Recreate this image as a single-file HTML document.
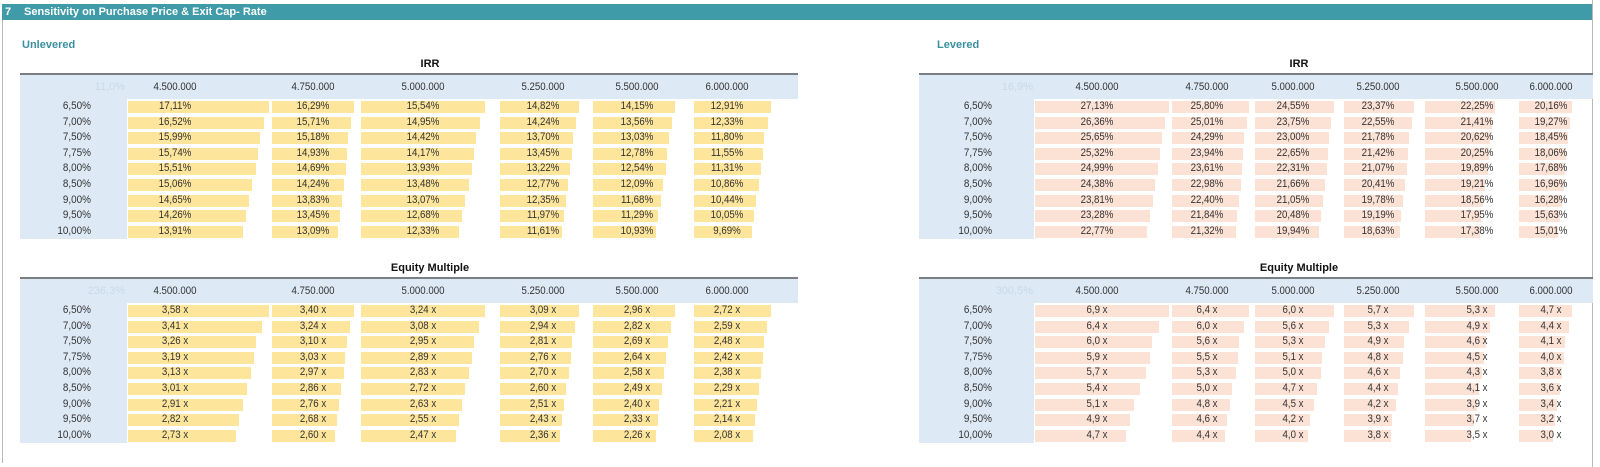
<!DOCTYPE html>
<html><head><meta charset="utf-8">
<style>
*{margin:0;padding:0;box-sizing:border-box}
body{width:1600px;height:467px;background:#fff;position:relative;overflow:hidden;font-family:"Liberation Sans",Arial,sans-serif;font-size:11px;color:#333}
.abs{position:absolute}
.bar{left:2px;top:4px;width:1590px;height:16px;background:#3f9ba8;color:#fff;font-weight:bold;line-height:16px}
.sub{color:#3a8fa0;font-weight:bold;font-size:11px}
.ttl{font-weight:bold;color:#111;transform:translateX(-50%)}
.tbl{position:absolute}
.tbl .line{position:absolute;left:0;top:0;height:2px;right:0;background:#7b7f84}
.tbl .band{position:absolute;left:0;top:2px;height:24px;right:0;background:#dde9f5}
.tbl .lab{position:absolute;left:0;top:2px;height:164px;background:#dde9f5}
.row{position:absolute;left:0;right:0;height:15.6px}
.row .rl{position:absolute;left:0;top:0;line-height:15.6px;text-align:right;transform:scaleX(.9);transform-origin:right center}
.c{position:absolute;top:0;height:15.6px}
.c i{position:absolute;left:0;top:2px;height:12px;background:var(--bc);width:calc(var(--m) * 1px * var(--v) / var(--t))}
.c b{position:absolute;left:calc(var(--cx) * 1px);top:0;font-weight:normal;line-height:15.6px;white-space:nowrap;transform:translateX(-50%) scaleX(.88)}
.hdr .c b{line-height:24px}
.ghost{position:absolute;top:2px;line-height:24px;color:#c9d9e8;text-align:right}
.L{left:20px;width:778px;--bc:#fde59b}
.L .lab{width:107px}
.L .rl{width:71px}
.L .ghost{left:0;width:105px}
.L .c:nth-child(2){left:108px;--m:141;--cx:47}
.L .c:nth-child(3){left:252px;--m:82;--cx:41}
.L .c:nth-child(4){left:341px;--m:124;--cx:62}
.L .c:nth-child(5){left:480px;--m:79;--cx:43}
.L .c:nth-child(6){left:573px;--m:82;--cx:44}
.L .c:nth-child(7){left:674px;--m:77;--cx:33}
.R{left:919px;width:674px;--bc:#fce1d5}
.R .lab{width:115px}
.R .rl{width:73px}
.R .ghost{left:0;width:114px}
.R .c:nth-child(2){left:116px;--m:134;--cx:62}
.R .c:nth-child(3){left:253px;--m:77;--cx:35}
.R .c:nth-child(4){left:336px;--m:79;--cx:38}
.R .c:nth-child(5){left:425px;--m:70;--cx:34}
.R .c:nth-child(6){left:506px;--m:70;--cx:52}
.R .c:nth-child(7){left:600px;--m:53;--cx:32}
.a .c:nth-child(2){--t:17.11}.a .c:nth-child(3){--t:16.29}.a .c:nth-child(4){--t:15.54}.a .c:nth-child(5){--t:14.82}.a .c:nth-child(6){--t:14.15}.a .c:nth-child(7){--t:12.91}
.b .c:nth-child(2){--t:27.13}.b .c:nth-child(3){--t:25.80}.b .c:nth-child(4){--t:24.55}.b .c:nth-child(5){--t:23.37}.b .c:nth-child(6){--t:22.25}.b .c:nth-child(7){--t:20.16}
.d .c:nth-child(2){--t:3.58}.d .c:nth-child(3){--t:3.40}.d .c:nth-child(4){--t:3.24}.d .c:nth-child(5){--t:3.09}.d .c:nth-child(6){--t:2.96}.d .c:nth-child(7){--t:2.72}
.e .c:nth-child(2){--t:6.9}.e .c:nth-child(3){--t:6.4}.e .c:nth-child(4){--t:6.0}.e .c:nth-child(5){--t:5.7}.e .c:nth-child(6){--t:5.3}.e .c:nth-child(7){--t:4.7}
.r1{top:26px}.r2{top:41.6px}.r3{top:57.2px}.r4{top:72.8px}.r5{top:88.4px}.r6{top:104px}.r7{top:119.6px}.r8{top:135.2px}.r9{top:150.8px}
.hdr{top:2px;height:24px}
</style></head><body>
<div class="abs" style="left:2px;top:20px;width:1px;height:443px;background:#b8b8b8"></div>
<div class="abs" style="left:1592px;top:0;width:1px;height:467px;background:#b8b8b8"></div>
<div class="abs bar"><span style="position:absolute;left:3px">7</span><span style="position:absolute;left:22px">Sensitivity on Purchase Price &amp; Exit Cap- Rate</span></div>
<div class="abs sub" style="left:22px;top:39px">Unlevered</div>
<div class="abs sub" style="left:937px;top:39px">Levered</div>
<div class="abs ttl" style="left:430px;top:58px">IRR</div>
<div class="abs ttl" style="left:1299px;top:58px">IRR</div>
<div class="abs ttl" style="left:430px;top:262px">Equity Multiple</div>
<div class="abs ttl" style="left:1299px;top:262px">Equity Multiple</div>

<div class="tbl L a" style="top:73px">
<div class="line"></div><div class="band"></div><div class="lab"></div>
<div class="ghost">11,0%</div>
<div class="row hdr"><span></span><div class="c"><b>4.500.000</b></div><div class="c"><b>4.750.000</b></div><div class="c"><b>5.000.000</b></div><div class="c"><b>5.250.000</b></div><div class="c"><b>5.500.000</b></div><div class="c"><b>6.000.000</b></div></div>
<div class="row r1"><span class="rl">6,50%</span><div class="c" style="--v:17.11"><i></i><b>17,11%</b></div><div class="c" style="--v:16.29"><i></i><b>16,29%</b></div><div class="c" style="--v:15.54"><i></i><b>15,54%</b></div><div class="c" style="--v:14.82"><i></i><b>14,82%</b></div><div class="c" style="--v:14.15"><i></i><b>14,15%</b></div><div class="c" style="--v:12.91"><i></i><b>12,91%</b></div></div>
<div class="row r2"><span class="rl">7,00%</span><div class="c" style="--v:16.52"><i></i><b>16,52%</b></div><div class="c" style="--v:15.71"><i></i><b>15,71%</b></div><div class="c" style="--v:14.95"><i></i><b>14,95%</b></div><div class="c" style="--v:14.24"><i></i><b>14,24%</b></div><div class="c" style="--v:13.56"><i></i><b>13,56%</b></div><div class="c" style="--v:12.33"><i></i><b>12,33%</b></div></div>
<div class="row r3"><span class="rl">7,50%</span><div class="c" style="--v:15.99"><i></i><b>15,99%</b></div><div class="c" style="--v:15.18"><i></i><b>15,18%</b></div><div class="c" style="--v:14.42"><i></i><b>14,42%</b></div><div class="c" style="--v:13.70"><i></i><b>13,70%</b></div><div class="c" style="--v:13.03"><i></i><b>13,03%</b></div><div class="c" style="--v:11.80"><i></i><b>11,80%</b></div></div>
<div class="row r4"><span class="rl">7,75%</span><div class="c" style="--v:15.74"><i></i><b>15,74%</b></div><div class="c" style="--v:14.93"><i></i><b>14,93%</b></div><div class="c" style="--v:14.17"><i></i><b>14,17%</b></div><div class="c" style="--v:13.45"><i></i><b>13,45%</b></div><div class="c" style="--v:12.78"><i></i><b>12,78%</b></div><div class="c" style="--v:11.55"><i></i><b>11,55%</b></div></div>
<div class="row r5"><span class="rl">8,00%</span><div class="c" style="--v:15.51"><i></i><b>15,51%</b></div><div class="c" style="--v:14.69"><i></i><b>14,69%</b></div><div class="c" style="--v:13.93"><i></i><b>13,93%</b></div><div class="c" style="--v:13.22"><i></i><b>13,22%</b></div><div class="c" style="--v:12.54"><i></i><b>12,54%</b></div><div class="c" style="--v:11.31"><i></i><b>11,31%</b></div></div>
<div class="row r6"><span class="rl">8,50%</span><div class="c" style="--v:15.06"><i></i><b>15,06%</b></div><div class="c" style="--v:14.24"><i></i><b>14,24%</b></div><div class="c" style="--v:13.48"><i></i><b>13,48%</b></div><div class="c" style="--v:12.77"><i></i><b>12,77%</b></div><div class="c" style="--v:12.09"><i></i><b>12,09%</b></div><div class="c" style="--v:10.86"><i></i><b>10,86%</b></div></div>
<div class="row r7"><span class="rl">9,00%</span><div class="c" style="--v:14.65"><i></i><b>14,65%</b></div><div class="c" style="--v:13.83"><i></i><b>13,83%</b></div><div class="c" style="--v:13.07"><i></i><b>13,07%</b></div><div class="c" style="--v:12.35"><i></i><b>12,35%</b></div><div class="c" style="--v:11.68"><i></i><b>11,68%</b></div><div class="c" style="--v:10.44"><i></i><b>10,44%</b></div></div>
<div class="row r8"><span class="rl">9,50%</span><div class="c" style="--v:14.26"><i></i><b>14,26%</b></div><div class="c" style="--v:13.45"><i></i><b>13,45%</b></div><div class="c" style="--v:12.68"><i></i><b>12,68%</b></div><div class="c" style="--v:11.97"><i></i><b>11,97%</b></div><div class="c" style="--v:11.29"><i></i><b>11,29%</b></div><div class="c" style="--v:10.05"><i></i><b>10,05%</b></div></div>
<div class="row r9"><span class="rl">10,00%</span><div class="c" style="--v:13.91"><i></i><b>13,91%</b></div><div class="c" style="--v:13.09"><i></i><b>13,09%</b></div><div class="c" style="--v:12.33"><i></i><b>12,33%</b></div><div class="c" style="--v:11.61"><i></i><b>11,61%</b></div><div class="c" style="--v:10.93"><i></i><b>10,93%</b></div><div class="c" style="--v:9.69"><i></i><b>9,69%</b></div></div>
</div>

<div class="tbl R b" style="top:73px">
<div class="line"></div><div class="band"></div><div class="lab"></div>
<div class="ghost">16,9%</div>
<div class="row hdr"><span></span><div class="c"><b>4.500.000</b></div><div class="c"><b>4.750.000</b></div><div class="c"><b>5.000.000</b></div><div class="c"><b>5.250.000</b></div><div class="c"><b>5.500.000</b></div><div class="c"><b>6.000.000</b></div></div>
<div class="row r1"><span class="rl">6,50%</span><div class="c" style="--v:27.13"><i></i><b>27,13%</b></div><div class="c" style="--v:25.80"><i></i><b>25,80%</b></div><div class="c" style="--v:24.55"><i></i><b>24,55%</b></div><div class="c" style="--v:23.37"><i></i><b>23,37%</b></div><div class="c" style="--v:22.25"><i></i><b>22,25%</b></div><div class="c" style="--v:20.16"><i></i><b>20,16%</b></div></div>
<div class="row r2"><span class="rl">7,00%</span><div class="c" style="--v:26.36"><i></i><b>26,36%</b></div><div class="c" style="--v:25.01"><i></i><b>25,01%</b></div><div class="c" style="--v:23.75"><i></i><b>23,75%</b></div><div class="c" style="--v:22.55"><i></i><b>22,55%</b></div><div class="c" style="--v:21.41"><i></i><b>21,41%</b></div><div class="c" style="--v:19.27"><i></i><b>19,27%</b></div></div>
<div class="row r3"><span class="rl">7,50%</span><div class="c" style="--v:25.65"><i></i><b>25,65%</b></div><div class="c" style="--v:24.29"><i></i><b>24,29%</b></div><div class="c" style="--v:23.00"><i></i><b>23,00%</b></div><div class="c" style="--v:21.78"><i></i><b>21,78%</b></div><div class="c" style="--v:20.62"><i></i><b>20,62%</b></div><div class="c" style="--v:18.45"><i></i><b>18,45%</b></div></div>
<div class="row r4"><span class="rl">7,75%</span><div class="c" style="--v:25.32"><i></i><b>25,32%</b></div><div class="c" style="--v:23.94"><i></i><b>23,94%</b></div><div class="c" style="--v:22.65"><i></i><b>22,65%</b></div><div class="c" style="--v:21.42"><i></i><b>21,42%</b></div><div class="c" style="--v:20.25"><i></i><b>20,25%</b></div><div class="c" style="--v:18.06"><i></i><b>18,06%</b></div></div>
<div class="row r5"><span class="rl">8,00%</span><div class="c" style="--v:24.99"><i></i><b>24,99%</b></div><div class="c" style="--v:23.61"><i></i><b>23,61%</b></div><div class="c" style="--v:22.31"><i></i><b>22,31%</b></div><div class="c" style="--v:21.07"><i></i><b>21,07%</b></div><div class="c" style="--v:19.89"><i></i><b>19,89%</b></div><div class="c" style="--v:17.68"><i></i><b>17,68%</b></div></div>
<div class="row r6"><span class="rl">8,50%</span><div class="c" style="--v:24.38"><i></i><b>24,38%</b></div><div class="c" style="--v:22.98"><i></i><b>22,98%</b></div><div class="c" style="--v:21.66"><i></i><b>21,66%</b></div><div class="c" style="--v:20.41"><i></i><b>20,41%</b></div><div class="c" style="--v:19.21"><i></i><b>19,21%</b></div><div class="c" style="--v:16.96"><i></i><b>16,96%</b></div></div>
<div class="row r7"><span class="rl">9,00%</span><div class="c" style="--v:23.81"><i></i><b>23,81%</b></div><div class="c" style="--v:22.40"><i></i><b>22,40%</b></div><div class="c" style="--v:21.05"><i></i><b>21,05%</b></div><div class="c" style="--v:19.78"><i></i><b>19,78%</b></div><div class="c" style="--v:18.56"><i></i><b>18,56%</b></div><div class="c" style="--v:16.28"><i></i><b>16,28%</b></div></div>
<div class="row r8"><span class="rl">9,50%</span><div class="c" style="--v:23.28"><i></i><b>23,28%</b></div><div class="c" style="--v:21.84"><i></i><b>21,84%</b></div><div class="c" style="--v:20.48"><i></i><b>20,48%</b></div><div class="c" style="--v:19.19"><i></i><b>19,19%</b></div><div class="c" style="--v:17.95"><i></i><b>17,95%</b></div><div class="c" style="--v:15.63"><i></i><b>15,63%</b></div></div>
<div class="row r9"><span class="rl">10,00%</span><div class="c" style="--v:22.77"><i></i><b>22,77%</b></div><div class="c" style="--v:21.32"><i></i><b>21,32%</b></div><div class="c" style="--v:19.94"><i></i><b>19,94%</b></div><div class="c" style="--v:18.63"><i></i><b>18,63%</b></div><div class="c" style="--v:17.38"><i></i><b>17,38%</b></div><div class="c" style="--v:15.01"><i></i><b>15,01%</b></div></div>
</div>

<div class="tbl L d" style="top:277px">
<div class="line"></div><div class="band"></div><div class="lab"></div>
<div class="ghost">236,3%</div>
<div class="row hdr"><span></span><div class="c"><b>4.500.000</b></div><div class="c"><b>4.750.000</b></div><div class="c"><b>5.000.000</b></div><div class="c"><b>5.250.000</b></div><div class="c"><b>5.500.000</b></div><div class="c"><b>6.000.000</b></div></div>
<div class="row r1"><span class="rl">6,50%</span><div class="c" style="--v:3.58"><i></i><b>3,58 x</b></div><div class="c" style="--v:3.40"><i></i><b>3,40 x</b></div><div class="c" style="--v:3.24"><i></i><b>3,24 x</b></div><div class="c" style="--v:3.09"><i></i><b>3,09 x</b></div><div class="c" style="--v:2.96"><i></i><b>2,96 x</b></div><div class="c" style="--v:2.72"><i></i><b>2,72 x</b></div></div>
<div class="row r2"><span class="rl">7,00%</span><div class="c" style="--v:3.41"><i></i><b>3,41 x</b></div><div class="c" style="--v:3.24"><i></i><b>3,24 x</b></div><div class="c" style="--v:3.08"><i></i><b>3,08 x</b></div><div class="c" style="--v:2.94"><i></i><b>2,94 x</b></div><div class="c" style="--v:2.82"><i></i><b>2,82 x</b></div><div class="c" style="--v:2.59"><i></i><b>2,59 x</b></div></div>
<div class="row r3"><span class="rl">7,50%</span><div class="c" style="--v:3.26"><i></i><b>3,26 x</b></div><div class="c" style="--v:3.10"><i></i><b>3,10 x</b></div><div class="c" style="--v:2.95"><i></i><b>2,95 x</b></div><div class="c" style="--v:2.81"><i></i><b>2,81 x</b></div><div class="c" style="--v:2.69"><i></i><b>2,69 x</b></div><div class="c" style="--v:2.48"><i></i><b>2,48 x</b></div></div>
<div class="row r4"><span class="rl">7,75%</span><div class="c" style="--v:3.19"><i></i><b>3,19 x</b></div><div class="c" style="--v:3.03"><i></i><b>3,03 x</b></div><div class="c" style="--v:2.89"><i></i><b>2,89 x</b></div><div class="c" style="--v:2.76"><i></i><b>2,76 x</b></div><div class="c" style="--v:2.64"><i></i><b>2,64 x</b></div><div class="c" style="--v:2.42"><i></i><b>2,42 x</b></div></div>
<div class="row r5"><span class="rl">8,00%</span><div class="c" style="--v:3.13"><i></i><b>3,13 x</b></div><div class="c" style="--v:2.97"><i></i><b>2,97 x</b></div><div class="c" style="--v:2.83"><i></i><b>2,83 x</b></div><div class="c" style="--v:2.70"><i></i><b>2,70 x</b></div><div class="c" style="--v:2.58"><i></i><b>2,58 x</b></div><div class="c" style="--v:2.38"><i></i><b>2,38 x</b></div></div>
<div class="row r6"><span class="rl">8,50%</span><div class="c" style="--v:3.01"><i></i><b>3,01 x</b></div><div class="c" style="--v:2.86"><i></i><b>2,86 x</b></div><div class="c" style="--v:2.72"><i></i><b>2,72 x</b></div><div class="c" style="--v:2.60"><i></i><b>2,60 x</b></div><div class="c" style="--v:2.49"><i></i><b>2,49 x</b></div><div class="c" style="--v:2.29"><i></i><b>2,29 x</b></div></div>
<div class="row r7"><span class="rl">9,00%</span><div class="c" style="--v:2.91"><i></i><b>2,91 x</b></div><div class="c" style="--v:2.76"><i></i><b>2,76 x</b></div><div class="c" style="--v:2.63"><i></i><b>2,63 x</b></div><div class="c" style="--v:2.51"><i></i><b>2,51 x</b></div><div class="c" style="--v:2.40"><i></i><b>2,40 x</b></div><div class="c" style="--v:2.21"><i></i><b>2,21 x</b></div></div>
<div class="row r8"><span class="rl">9,50%</span><div class="c" style="--v:2.82"><i></i><b>2,82 x</b></div><div class="c" style="--v:2.68"><i></i><b>2,68 x</b></div><div class="c" style="--v:2.55"><i></i><b>2,55 x</b></div><div class="c" style="--v:2.43"><i></i><b>2,43 x</b></div><div class="c" style="--v:2.33"><i></i><b>2,33 x</b></div><div class="c" style="--v:2.14"><i></i><b>2,14 x</b></div></div>
<div class="row r9"><span class="rl">10,00%</span><div class="c" style="--v:2.73"><i></i><b>2,73 x</b></div><div class="c" style="--v:2.60"><i></i><b>2,60 x</b></div><div class="c" style="--v:2.47"><i></i><b>2,47 x</b></div><div class="c" style="--v:2.36"><i></i><b>2,36 x</b></div><div class="c" style="--v:2.26"><i></i><b>2,26 x</b></div><div class="c" style="--v:2.08"><i></i><b>2,08 x</b></div></div>
</div>

<div class="tbl R e" style="top:277px">
<div class="line"></div><div class="band"></div><div class="lab"></div>
<div class="ghost">300,5%</div>
<div class="row hdr"><span></span><div class="c"><b>4.500.000</b></div><div class="c"><b>4.750.000</b></div><div class="c"><b>5.000.000</b></div><div class="c"><b>5.250.000</b></div><div class="c"><b>5.500.000</b></div><div class="c"><b>6.000.000</b></div></div>
<div class="row r1"><span class="rl">6,50%</span><div class="c" style="--v:6.9"><i></i><b>6,9 x</b></div><div class="c" style="--v:6.4"><i></i><b>6,4 x</b></div><div class="c" style="--v:6.0"><i></i><b>6,0 x</b></div><div class="c" style="--v:5.7"><i></i><b>5,7 x</b></div><div class="c" style="--v:5.3"><i></i><b>5,3 x</b></div><div class="c" style="--v:4.7"><i></i><b>4,7 x</b></div></div>
<div class="row r2"><span class="rl">7,00%</span><div class="c" style="--v:6.4"><i></i><b>6,4 x</b></div><div class="c" style="--v:6.0"><i></i><b>6,0 x</b></div><div class="c" style="--v:5.6"><i></i><b>5,6 x</b></div><div class="c" style="--v:5.3"><i></i><b>5,3 x</b></div><div class="c" style="--v:4.9"><i></i><b>4,9 x</b></div><div class="c" style="--v:4.4"><i></i><b>4,4 x</b></div></div>
<div class="row r3"><span class="rl">7,50%</span><div class="c" style="--v:6.0"><i></i><b>6,0 x</b></div><div class="c" style="--v:5.6"><i></i><b>5,6 x</b></div><div class="c" style="--v:5.3"><i></i><b>5,3 x</b></div><div class="c" style="--v:4.9"><i></i><b>4,9 x</b></div><div class="c" style="--v:4.6"><i></i><b>4,6 x</b></div><div class="c" style="--v:4.1"><i></i><b>4,1 x</b></div></div>
<div class="row r4"><span class="rl">7,75%</span><div class="c" style="--v:5.9"><i></i><b>5,9 x</b></div><div class="c" style="--v:5.5"><i></i><b>5,5 x</b></div><div class="c" style="--v:5.1"><i></i><b>5,1 x</b></div><div class="c" style="--v:4.8"><i></i><b>4,8 x</b></div><div class="c" style="--v:4.5"><i></i><b>4,5 x</b></div><div class="c" style="--v:4.0"><i></i><b>4,0 x</b></div></div>
<div class="row r5"><span class="rl">8,00%</span><div class="c" style="--v:5.7"><i></i><b>5,7 x</b></div><div class="c" style="--v:5.3"><i></i><b>5,3 x</b></div><div class="c" style="--v:5.0"><i></i><b>5,0 x</b></div><div class="c" style="--v:4.6"><i></i><b>4,6 x</b></div><div class="c" style="--v:4.3"><i></i><b>4,3 x</b></div><div class="c" style="--v:3.8"><i></i><b>3,8 x</b></div></div>
<div class="row r6"><span class="rl">8,50%</span><div class="c" style="--v:5.4"><i></i><b>5,4 x</b></div><div class="c" style="--v:5.0"><i></i><b>5,0 x</b></div><div class="c" style="--v:4.7"><i></i><b>4,7 x</b></div><div class="c" style="--v:4.4"><i></i><b>4,4 x</b></div><div class="c" style="--v:4.1"><i></i><b>4,1 x</b></div><div class="c" style="--v:3.6"><i></i><b>3,6 x</b></div></div>
<div class="row r7"><span class="rl">9,00%</span><div class="c" style="--v:5.1"><i></i><b>5,1 x</b></div><div class="c" style="--v:4.8"><i></i><b>4,8 x</b></div><div class="c" style="--v:4.5"><i></i><b>4,5 x</b></div><div class="c" style="--v:4.2"><i></i><b>4,2 x</b></div><div class="c" style="--v:3.9"><i></i><b>3,9 x</b></div><div class="c" style="--v:3.4"><i></i><b>3,4 x</b></div></div>
<div class="row r8"><span class="rl">9,50%</span><div class="c" style="--v:4.9"><i></i><b>4,9 x</b></div><div class="c" style="--v:4.6"><i></i><b>4,6 x</b></div><div class="c" style="--v:4.2"><i></i><b>4,2 x</b></div><div class="c" style="--v:3.9"><i></i><b>3,9 x</b></div><div class="c" style="--v:3.7"><i></i><b>3,7 x</b></div><div class="c" style="--v:3.2"><i></i><b>3,2 x</b></div></div>
<div class="row r9"><span class="rl">10,00%</span><div class="c" style="--v:4.7"><i></i><b>4,7 x</b></div><div class="c" style="--v:4.4"><i></i><b>4,4 x</b></div><div class="c" style="--v:4.0"><i></i><b>4,0 x</b></div><div class="c" style="--v:3.8"><i></i><b>3,8 x</b></div><div class="c" style="--v:3.5"><i></i><b>3,5 x</b></div><div class="c" style="--v:3.0"><i></i><b>3,0 x</b></div></div>
</div>
</body></html>
